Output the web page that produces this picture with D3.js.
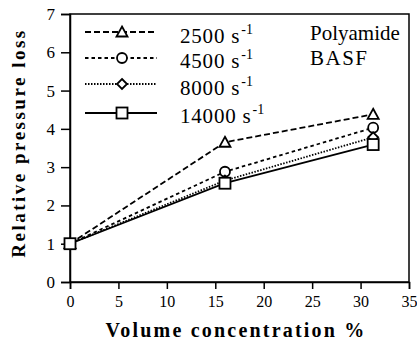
<!DOCTYPE html>
<html>
<head>
<meta charset="utf-8">
<script src="https://cdn.jsdelivr.net/npm/d3@7"></script>
<style>
  body { margin: 0; background: #fff; }
  svg text { font-family: "Liberation Serif", "DejaVu Serif", serif; fill: #000; }
</style>
</head>
<body>
<div id="chart"></div>
<script>
var concentration = [0, 16, 31.3];
var rateLabels = ["2500", "4500", "8000", "14000"];
var loss2500 = [1, 3.65, 4.38];
var loss4500 = [1, 2.88, 4.03];
var loss8000 = [1, 2.65, 3.78];
var loss14000 = [1, 2.58, 3.59];
var xTicks = [0, 5, 10, 15, 20, 25, 30, 35];
var yTicks = [0, 1, 2, 3, 4, 5, 6, 7];

var series = [
  {label: rateLabels[0], values: loss2500, dash: "6,3", marker: "triangle"},
  {label: rateLabels[1], values: loss4500, dash: "3.5,3", marker: "circle"},
  {label: rateLabels[2], values: loss8000, dash: "1.5,1.5", marker: "diamond"},
  {label: rateLabels[3], values: loss14000, dash: null, marker: "square"}
];

var margin = {top: 14, right: 8, bottom: 64, left: 70},
    width = 417 - margin.left - margin.right,
    height = 346 - margin.top - margin.bottom;

var x = d3.scaleLinear().domain([0, 35]).range([0, width]),
    y = d3.scaleLinear().domain([0, 7]).range([height, 0]);

var svg = d3.select("#chart").append("svg")
    .attr("width", 417)
    .attr("height", 346)
  .append("g")
    .attr("transform", "translate(" + margin.left + "," + margin.top + ")");

// frame
svg.append("rect")
    .attr("width", width).attr("height", height)
    .attr("fill", "none").attr("stroke", "#000").attr("stroke-width", 1.5);

var xAxis = svg.append("g")
    .attr("transform", "translate(0," + height + ")")
    .call(d3.axisBottom(x).tickValues(xTicks).tickFormat(d3.format("d")).tickSize(7).tickPadding(7));
var yAxis = svg.append("g")
    .call(d3.axisLeft(y).tickValues(yTicks).tickFormat(d3.format("d")).tickSize(9).tickPadding(6));

[xAxis, yAxis].forEach(function(a) {
  a.attr("font-family", null).attr("font-size", null);
  a.select(".domain").attr("stroke-width", 1.5);
  a.selectAll(".tick line").attr("stroke-width", 1.5);
});
xAxis.selectAll(".tick text").style("font-size", "16px");
yAxis.selectAll(".tick text").style("font-size", "17px");

// axis titles
svg.append("text")
    .attr("x", 166).attr("y", height + 55)
    .attr("text-anchor", "middle")
    .style("font-size", "20px").style("font-weight", "bold")
    .style("letter-spacing", "2.2px")
    .text("Volume concentration %");

svg.append("text")
    .attr("transform", "translate(" + (-45) + "," + 129 + ") rotate(-90)")
    .attr("text-anchor", "middle")
    .style("font-size", "19px").style("font-weight", "bold")
    .style("letter-spacing", "2.5px")
    .text("Relative pressure loss");

var line = d3.line()
    .x(function(d, i) { return x(concentration[i]); })
    .y(function(d) { return y(d); });

function drawMarker(g, type, cx, cy) {
  var m;
  if (type === "triangle") {
    m = g.append("path").attr("d", "M" + cx + "," + (cy - 5.5) + "L" + (cx + 5.5) + "," + (cy + 4.5) + "L" + (cx - 5.5) + "," + (cy + 4.5) + "Z");
  } else if (type === "circle") {
    m = g.append("circle").attr("cx", cx).attr("cy", cy).attr("r", 5);
  } else if (type === "diamond") {
    m = g.append("path").attr("d", "M" + cx + "," + (cy - 5) + "L" + (cx + 5) + "," + cy + "L" + cx + "," + (cy + 5) + "L" + (cx - 5) + "," + cy + "Z");
  } else {
    m = g.append("rect").attr("x", cx - 5.5).attr("y", cy - 5.5).attr("width", 11).attr("height", 11);
  }
  m.attr("fill", "#fff").attr("stroke", "#000").attr("stroke-width", 1.8);
}

// lines first, markers on top (square series drawn last)
series.forEach(function(s) {
  svg.append("path")
      .datum(s.values)
      .attr("d", line)
      .attr("fill", "none")
      .attr("stroke", "#000")
      .attr("stroke-width", 1.8)
      .attr("stroke-dasharray", s.dash);
});
series.forEach(function(s) {
  var g = svg.append("g");
  s.values.forEach(function(v, i) {
    drawMarker(g, s.marker, x(concentration[i]), y(v));
  });
});

// legend
var legendY = [18, 44, 70, 99];
var textY = [29, 54, 81, 109];
var legend = svg.append("g").attr("transform", "translate(15,0)");
series.forEach(function(s, i) {
  var ly = legendY[i];
  legend.append("line")
      .attr("x1", 0).attr("x2", 72).attr("y1", ly).attr("y2", ly)
      .attr("stroke", "#000").attr("stroke-width", 1.8)
      .attr("stroke-dasharray", s.dash);
  drawMarker(legend, s.marker, 37, ly);
  var t = legend.append("text")
      .attr("x", 95).attr("y", textY[i])
      .style("font-size", "21px");
  t.append("tspan").style("letter-spacing", "0.8px").text(s.label + " s");
  t.append("tspan").attr("dy", -9).attr("dx", 1).style("font-size", "14px").text("-1");
});

svg.append("text")
    .attr("x", 240).attr("y", 26)
    .style("font-size", "21px")
    .text("Polyamide");
svg.append("text")
    .attr("x", 240).attr("y", 51)
    .style("font-size", "21px")
    .style("letter-spacing", "1.5px")
    .text("BASF");
</script>
</body>
</html>
